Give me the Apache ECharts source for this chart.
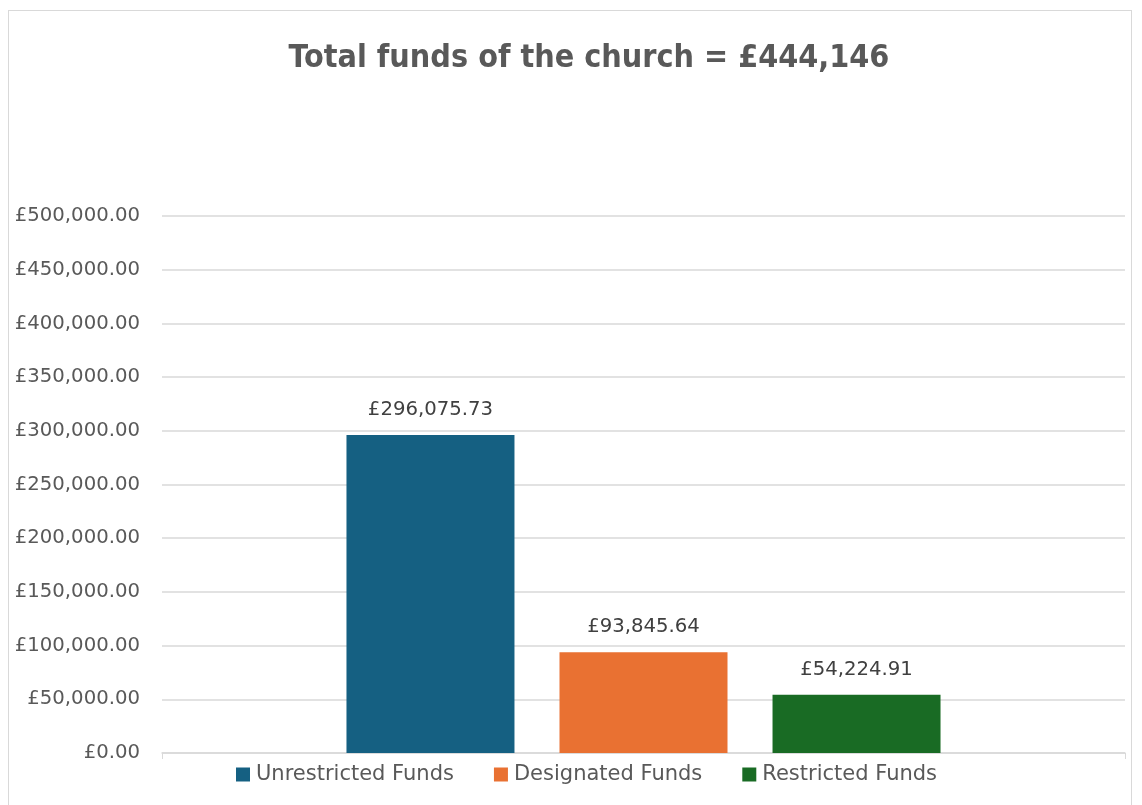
<!DOCTYPE html>
<html>
<head>
<meta charset="utf-8">
<script src="https://cdn.jsdelivr.net/npm/echarts@6/dist/echarts.min.js"></script>
<style>
html,body{margin:0;padding:0;background:#fff;}
#frame{position:absolute;left:8px;top:10px;width:1124px;height:800px;border:1px solid #d9d9d9;box-sizing:border-box;}
#chart{position:absolute;left:0;top:0;width:1142px;height:805px;}
</style>
</head>
<body>
<div id="frame"></div>
<div id="chart"></div>
<script>
const titleText = "Total funds of the church = £444,146";
const categories = [""];
const seriesNames = ["Unrestricted Funds", "Designated Funds", "Restricted Funds"];
const seriesValues = [296075.73, 93845.64, 54224.91];
const seriesColors = ["#156082", "#E97132", "#196B24"];
const yMin = 0, yMax = 500000, yInterval = 50000;

function fmt(v) {
  return "£" + Number(v).toLocaleString("en-GB", {minimumFractionDigits: 2, maximumFractionDigits: 2});
}

const chart = echarts.init(document.getElementById("chart"));
const font = "'DejaVu Sans', sans-serif";
chart.setOption({
  animation: false,
  title: {
    text: titleText,
    left: 584, top: 38, textAlign: "center",
    textStyle: {fontFamily: "'DejaVu Sans Condensed', 'Liberation Sans Narrow', sans-serif", fontWeight: "bold", fontSize: 32, color: "#595959"}
  },
  legend: {
    top: 759, left: 231,
    itemWidth: 14, itemHeight: 14, itemGap: 40,
    icon: "rect",
    textStyle: {fontFamily: font, fontSize: 21, color: "#595959", padding: [0,0,0,1]},
    data: seriesNames
  },
  grid: {left: 162, right: 17, top: 216, bottom: 52},
  xAxis: {
    type: "category", data: categories,
    axisLine: {lineStyle: {color: "#d9d9d9", width: 1.5}},
    axisTick: {show: true, length: 6, lineStyle: {color: "#d9d9d9"}},
    axisLabel: {show: false}
  },
  yAxis: {
    type: "value", min: yMin, max: yMax, interval: yInterval,
    axisLine: {show: false}, axisTick: {show: false},
    splitLine: {lineStyle: {color: "#d9d9d9", width: 1.5}},
    axisLabel: {formatter: fmt, fontFamily: font, fontSize: 19.7, color: "#595959", margin: 22}
  },
  series: seriesNames.map((n, i) => ({
    name: n, type: "bar",
    data: [seriesValues[i]],
    barWidth: 168, barGap: "26.8%",
    itemStyle: {color: seriesColors[i]},
    label: {show: true, position: "top", distance: 15, formatter: p => fmt(p.value),
      fontFamily: font, fontSize: 19.7, color: "#404040"}
  }))
});
</script>
</body>
</html>
